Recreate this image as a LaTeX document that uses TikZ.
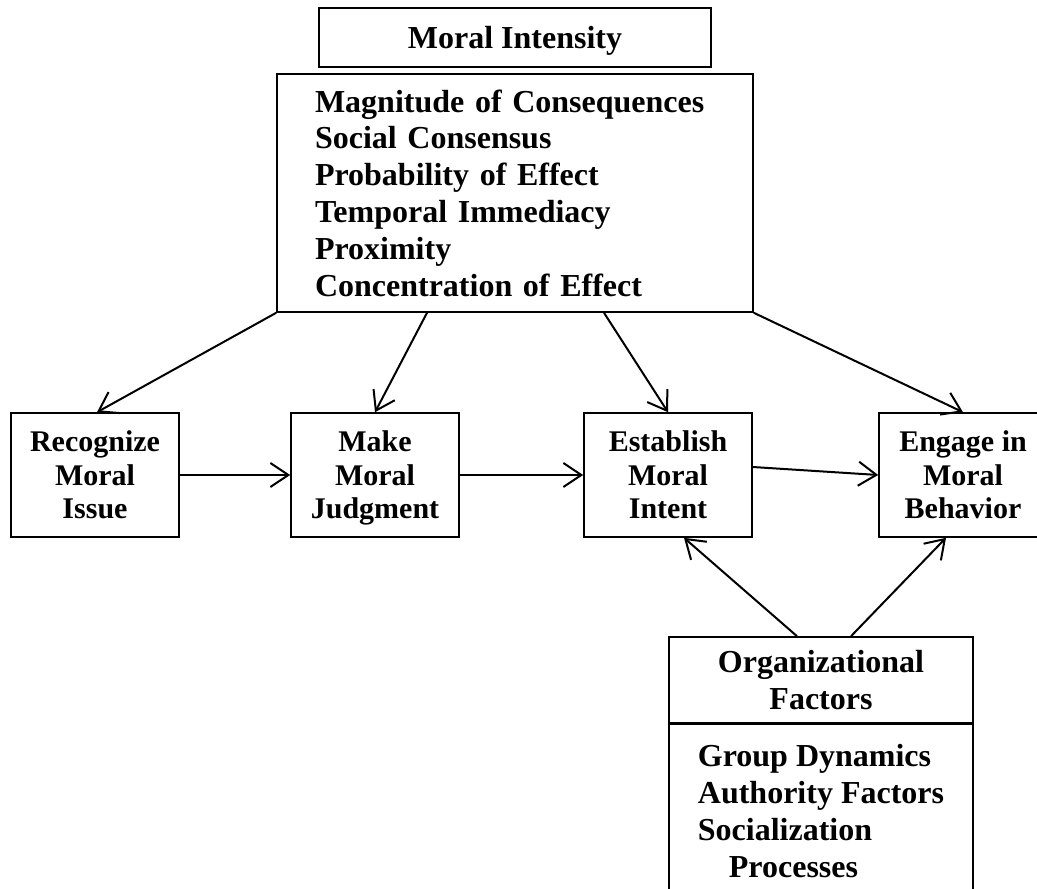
\documentclass[tikz,border=0pt]{standalone}
\usepackage{fontspec}
\setmainfont{Liberation Serif}
\usetikzlibrary{positioning,arrows.meta}
\begin{document}
\begin{tikzpicture}[x=0.5pt,y=-0.5pt]
		\tikzstyle{box}=[draw,line width=0.8pt,font=\bfseries\fontsize{16}{18.4}\selectfont,inner sep=0pt]
		\tikzstyle{stepbox}=[box,minimum width=84pt,minimum height=62pt,align=center,text depth=0pt,
			font=\bfseries\fontsize{15}{16.75}\selectfont]
		\tikzstyle{arr}=[line width=1pt,-{Straight Barb[length=9pt,width=12pt,line width=1pt]}]
		\useasboundingbox (0,0) rectangle (1037,888);
		
		\node (MIt) at (515,37.5) [box, minimum width=196pt, minimum height=29.5pt, text depth=0pt] {Moral Intensity};
		\node (MI) at (515,193) [box, minimum width=238pt, minimum height=119pt, text width=200pt, align=left]
			{Magnitude of Consequences\\Social Consensus\\Probability of Effect\\Temporal Immediacy\\Proximity\\Concentration of Effect};
		
		\node (RMI) at (95,475) [stepbox] {Recognize\\Moral\\Issue};
		\node (MMJ) at (375,475) [stepbox] {Make\\Moral\\Judgment};
		\node (EMI) at (668,475) [stepbox] {Establish\\Moral\\Intent};
		\node (EMB) at (963,475) [stepbox] {Engage in\\Moral\\Behavior};
		
		\node (OFh) at (821,680) [box, minimum width=152pt, minimum height=43pt, align=center] {Organizational\\Factors};
		\node (OFl) [below=0pt of OFh, box, minimum width=152pt, inner ysep=10pt, align=left]
			{Group Dynamics\\Authority Factors\\Socialization\\\hspace*{15.5pt}Processes};
		
		\draw[arr] (MI.south west)--([xshift=1pt]RMI.north);
		\draw[arr] ([xshift=-44pt]MI.south)--(MMJ.north);
		\draw[arr] ([xshift=44.5pt]MI.south)--(EMI.north);
		\draw[arr] (MI.south east)--(EMB.north);
		
		\draw[arr] (RMI)--(MMJ);
		\draw[arr] (MMJ)--(EMI);
		\draw[arr] ([yshift=4pt]EMI.east)--(EMB.west);
		
		\draw[arr] ([xshift=-12pt]OFh.north)--([xshift=8pt]EMI.south);
		\draw[arr] ([xshift=15pt]OFh.north)--([xshift=-8.5pt]EMB.south);
\end{tikzpicture}
\end{document}
